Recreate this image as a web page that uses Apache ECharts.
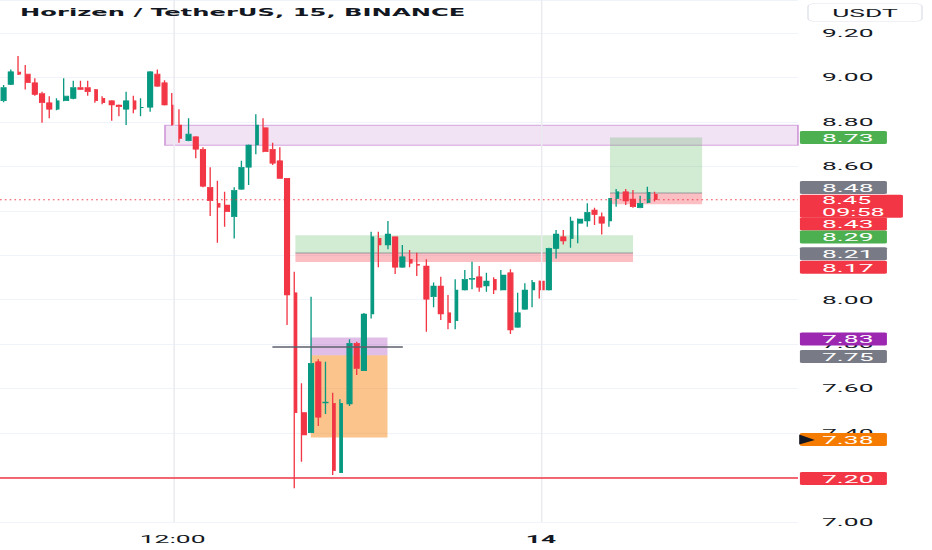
<!DOCTYPE html>
<html><head><meta charset="utf-8">
<script src="https://cdn.jsdelivr.net/npm/echarts@6/dist/echarts.min.js"></script>
<style>
html,body{margin:0;padding:0;background:#fff;overflow:hidden}
#wrap{width:932px;height:550px;overflow:hidden;position:relative;background:#fff}
#main{width:388px;height:550px;transform-origin:0 0}
</style></head><body>
<div id="wrap"><div id="main"></div></div>
<script>
// ---- data ----
const opens  = [8.895,8.969,9.024,9.015,8.976,8.928,8.886,8.857,8.895,8.906,8.955,8.955,8.946,8.906,8.895,8.876,8.857,8.895,8.864,8.866,9.015,8.976,8.876,8.786,8.715,8.733,8.677,8.506,8.434,8.426,8.373,8.497,8.596,8.696,8.774,8.677,8.625,8.546,8.031,7.492,7.402,7.721,7.535,7.534,7.222,7.531,7.804,7.681,7.936,8.276,8.246,8.283,8.146,8.182,8.160,8.152,8.013,8.062,7.941,7.906,8.044,8.092,8.103,8.062,8.092,8.044,8.121,7.876,7.957,8.044,8.084,8.044,8.231,8.283,8.276,8.344,8.354,8.404,8.373,8.354,8.456,8.486,8.453,8.414,8.438,8.474];
const closes = [8.955,9.026,9.015,8.976,8.924,8.886,8.857,8.895,8.916,8.955,8.946,8.936,8.895,8.886,8.876,8.868,8.895,8.857,8.866,9.026,8.961,8.876,8.786,8.726,8.745,8.677,8.511,8.445,8.416,8.396,8.493,8.596,8.696,8.786,8.666,8.614,8.546,8.021,7.492,7.391,7.714,7.471,7.540,7.231,7.534,7.804,7.691,7.936,8.283,8.246,8.296,8.146,8.193,8.164,8.155,8.002,8.062,7.936,7.897,8.044,8.092,8.096,8.056,8.084,8.044,8.111,7.864,7.941,8.044,8.077,8.044,8.231,8.296,8.264,8.354,8.363,8.393,8.384,8.344,8.456,8.486,8.444,8.418,8.434,8.483,8.450];
const lows   = [8.888,8.966,9.011,8.946,8.918,8.796,8.816,8.853,8.893,8.902,8.944,8.918,8.886,8.879,8.805,8.826,8.786,8.839,8.826,8.846,8.958,8.874,8.784,8.706,8.713,8.636,8.506,8.377,8.256,8.328,8.276,8.495,8.516,8.655,8.664,8.606,8.544,7.886,7.152,7.271,7.400,7.432,7.486,7.211,7.220,7.522,7.661,7.680,7.916,8.146,8.227,8.116,8.144,8.146,8.107,7.856,7.966,7.909,7.867,7.867,8.042,8.047,8.036,8.036,8.026,8.042,7.846,7.874,7.955,7.966,8.006,8.042,8.186,8.249,8.234,8.254,8.328,8.336,8.294,8.328,8.418,8.426,8.414,8.412,8.434,8.442];
const highs  = [8.966,9.036,9.096,9.056,8.996,8.936,8.916,8.906,8.996,8.985,8.985,8.985,8.948,8.916,8.897,8.878,8.936,8.918,8.906,9.028,9.036,8.988,8.930,8.857,8.816,8.735,8.686,8.596,8.535,8.486,8.506,8.625,8.698,8.835,8.816,8.706,8.686,8.548,8.126,7.624,8.013,7.732,7.721,7.582,7.552,7.822,7.811,7.940,8.306,8.306,8.354,8.285,8.246,8.224,8.211,8.182,8.077,8.103,8.021,8.092,8.134,8.171,8.152,8.121,8.101,8.134,8.137,8.031,8.074,8.089,8.086,8.234,8.314,8.314,8.373,8.366,8.434,8.414,8.393,8.458,8.498,8.498,8.494,8.468,8.508,8.486];

const xTickCats = ['13 12:00', '14 00:00'];
const xTickText = ['12:00', '14'];
const hiddenTicks = ['8.40', '8.20'];   // fully covered by price tags in the picture

// zone & positions (prices and bar times)
const zonePrices = [8.785, 8.695];           // top, bottom
const zoneFrom = '13 11:45';
const posEntry  = [8.48, 8.21, 7.75];
const posTarget = [8.73, 8.29, 7.38];
const posStop   = [8.43, 8.17, 7.83];
const posFrom   = ['14 02:15', '13 16:00', '13 16:30'];
const posTo     = ['14 05:15', '14 03:00', '13 19:00'];
const hLinePrice = 7.79, hLineFrom = '13 15:15', hLineTo = '13 19:30';
const supportPrice = 7.20;
const currentPrice = 8.45, countdown = '09:58';
const tagPrices = [8.73, 8.48, 8.43, 8.29, 8.21, 8.17, 7.83, 7.75, 7.38, 7.20];

// ---- styles / layout ----
const W = 388, S = 932 / W;
document.getElementById('main').style.transform = 'scaleX(' + S + ')';
const gridRight = W - 798 / S;
const plotRight = W - gridRight;
const UP = '#089981', DOWN = '#F23645';
const tagColors = ['#4CAF50','#787B86','#F23645','#4CAF50','#787B86','#F23645','#9C27B0','#787B86','#F57C00','#F23645'];
const tagShift = [0, -5.5, 19.8, 1.8, 0.7, 5.3, 1.5, 1.2, 2, 1];
const NUMFONT = 'Roboto';

// categories: 15-minute bars from 13th 06:30
const categories = [];
const pad = n => (n < 10 ? '0' : '') + n;
for (let i = 0; i < 104; i++) {
  const m = 390 + 15 * i;
  const day = 13 + Math.floor(m / 1440), mm = m % 1440;
  categories.push(day + ' ' + pad(Math.floor(mm / 60)) + ':' + pad(mm % 60));
}
const ci = c => categories.indexOf(c);
const candles = opens.map((o, i) => [o, closes[i], lows[i], highs[i]]);

// boxes for custom series
const boxes = [];
boxes.push({i0: ci(zoneFrom), i1: categories.length - 1, top: zonePrices[0], bottom: zonePrices[1], edge: true,
  style: {fill: 'rgba(225,190,231,0.45)', stroke: 'rgba(186,104,200,0.55)', lineWidth: 0.8}});
const posStyles = [
  [{fill: 'rgba(76,175,80,0.25)'}, {fill: 'rgba(242,54,69,0.32)'}],
  [{fill: 'rgba(76,175,80,0.25)'}, {fill: 'rgba(242,54,69,0.32)'}],
  [{fill: 'rgba(245,124,0,0.45)'}, {fill: 'rgba(156,39,176,0.3)'}]
];
for (let k = 0; k < posEntry.length; k++) {
  const a = ci(posFrom[k]), b = ci(posTo[k]);
  boxes.push({i0: a, i1: b, top: Math.max(posEntry[k], posTarget[k]), bottom: Math.min(posEntry[k], posTarget[k]), style: posStyles[k][0]});
  boxes.push({i0: a, i1: b, top: Math.max(posEntry[k], posStop[k]), bottom: Math.min(posEntry[k], posStop[k]), style: posStyles[k][1]});
}

const chart = echarts.init(document.getElementById('main'), null, {renderer: 'svg', width: W, height: 550});
const option = {
  animation: false,
  backgroundColor: '#ffffff',
  grid: {left: 0, right: gridRight, top: 0, bottom: 28},
  xAxis: {
    type: 'category', data: categories, boundaryGap: true,
    axisLine: {show: false}, axisTick: {show: false}, splitLine: {show: false},
    axisLabel: {
      interval: (idx, val) => xTickCats.indexOf(val) >= 0,
      formatter: (val) => { const k = xTickCats.indexOf(val); return k === 1 ? '{b|' + xTickText[k] + '}' : (k >= 0 ? xTickText[k] : ''); },
      color: '#131722', fontSize: 11, fontFamily: NUMFONT, margin: 12,
      rich: {b: {fontWeight: 'bold', fontSize: 11, fontFamily: NUMFONT, color: '#131722'}}
    }
  },
  yAxis: {
    type: 'value', position: 'right', min: 7, max: 9.3485, interval: 0.2, scale: true,
    axisLine: {show: false}, axisTick: {show: false},
    splitLine: {lineStyle: {color: '#f0f3fa', width: 1}},
    axisLabel: {showMaxLabel: false, formatter: v => { const s = v.toFixed(2); return hiddenTicks.indexOf(s) >= 0 ? '' : s; },
      color: '#131722', fontSize: 11, fontFamily: NUMFONT, margin: 10}
  },
  series: [
    {
      type: 'custom', z: 1, silent: true,
      data: boxes.map(b => [b.i0, b.top, b.i1, b.bottom]),
      encode: {x: [0, 2], y: [1, 3]},
      renderItem: (params, api) => {
        const b = boxes[params.dataIndex];
        const cs = params.coordSys;
        const p0 = api.coord([b.i0, b.top]);
        const p1 = api.coord([b.i1, b.bottom]);
        const x1 = b.edge ? cs.x + cs.width : p1[0];
        return {type: 'rect', shape: {x: p0[0], y: p0[1], width: x1 - p0[0], height: p1[1] - p0[1]}, style: b.style};
      }
    },
    {
      type: 'custom', z: 1, silent: true,
      data: [[ci(posFrom[0]), posEntry[0], ci(posTo[0])], [ci(posFrom[1]), posEntry[1], ci(posTo[1])]],
      encode: {x: [0, 2], y: 1},
      renderItem: (params, api) => {
        const p0 = api.coord([api.value(0), api.value(1)]);
        const p1 = api.coord([api.value(2), api.value(1)]);
        return {type: 'line', shape: {x1: p0[0], y1: p0[1], x2: p1[0], y2: p1[1]}, style: {stroke: 'rgba(120,123,134,0.7)', lineWidth: 1}};
      }
    },
    {
      type: 'candlestick', z: 2, data: candles, barWidth: 2.2,
      itemStyle: {color: UP, color0: DOWN, borderColor: UP, borderColor0: DOWN, borderWidth: 0.55},
      markLine: {
        silent: true, symbol: ['none', 'none'], animation: false, label: {show: false},
        data: [
          {xAxis: xTickCats[0], lineStyle: {color: '#ebebef', width: 0.6, type: 'solid'}},
          {xAxis: xTickCats[1], lineStyle: {color: '#ebebef', width: 0.6, type: 'solid'}},
          {yAxis: supportPrice, lineStyle: {color: 'rgba(242,54,69,0.75)', width: 2, type: 'solid'}},
          [{coord: [ci(hLineFrom), hLinePrice], lineStyle: {color: '#5d606b', width: 1.5, type: 'solid'}}, {coord: [ci(hLineTo), hLinePrice]}]
        ]
      }
    },
    {
      // current price dotted line across the plot
      type: 'custom', z: 3, silent: true,
      data: [[0, currentPrice]],
      encode: {x: 0, y: 1},
      renderItem: (params, api) => {
        const cs = params.coordSys;
        const y = api.coord([0, api.value(1)])[1];
        return {type: 'line', shape: {x1: cs.x, y1: y, x2: cs.x + cs.width, y2: y},
          style: {stroke: '#F23645', lineWidth: 1, lineDash: [0.7, 1.3], opacity: 0.9}};
      }
    }
  ]
};
chart.setOption(option);

// ---- right-side price tags and header ----
const g = [];
const yOf = p => chart.convertToPixel({yAxisIndex: 0}, p);
const tagX = plotRight + 0.8, tagW = 87 / S, textX = plotRight + 10;
// current price tag (two lines)
const yc = yOf(currentPrice);
g.push({type: 'rect', z: 100, shape: {x: tagX, y: yc - 5, width: 103 / S, height: 23, r: 1}, style: {fill: '#F23645'}});
g.push({type: 'text', z: 101, style: {text: currentPrice.toFixed(2), x: textX, y: yc + 0.8, fill: '#fff', font: '10.5px ' + NUMFONT, textAlign: 'left', textVerticalAlign: 'middle'}});
g.push({type: 'text', z: 101, style: {text: countdown, x: textX, y: yc + 12.3, fill: '#fff', font: '10.5px ' + NUMFONT, textAlign: 'left', textVerticalAlign: 'middle'}});
tagPrices.forEach((p, i) => {
  const y = yOf(p) + tagShift[i];
  g.push({type: 'rect', z: 102, shape: {x: tagX, y: y - 6.5, width: tagW, height: 13, r: 1}, style: {fill: tagColors[i]}});
  g.push({type: 'text', z: 103, style: {text: p.toFixed(2), x: textX, y: y + 0.5, fill: '#fff', font: '11px ' + NUMFONT, textAlign: 'left', textVerticalAlign: 'middle'}});
});
// black marker on 7.38 tag
const y738 = yOf(7.38) + tagShift[8];
g.push({type: 'polygon', z: 104, shape: {points: [[plotRight + 0.5, y738 - 5], [plotRight + 7, y738 + 0.5], [plotRight + 0.5, y738 + 5]]}, style: {fill: '#131722'}});
// title
g.push({type: 'text', z: 110, style: {text: 'Horizen / TetherUS, 15, BINANCE', x: 20 / S, y: 12.6, fill: '#131722', font: 'bold 10.1px "DejaVu Sans"', textAlign: 'left', textVerticalAlign: 'middle'}});
// currency box
g.push({type: 'rect', z: 110, shape: {x: 808 / S, y: 3.5, width: 114 / S, height: 18, r: 3}, style: {fill: '#fff', stroke: '#e0e3eb', lineWidth: 0.6}});
g.push({type: 'text', z: 111, style: {text: 'USDT', x: 865 / S, y: 13, fill: '#131722', font: '11px ' + NUMFONT, textAlign: 'center', textVerticalAlign: 'middle'}});
chart.setOption({graphic: g});
</script>
</body></html>
